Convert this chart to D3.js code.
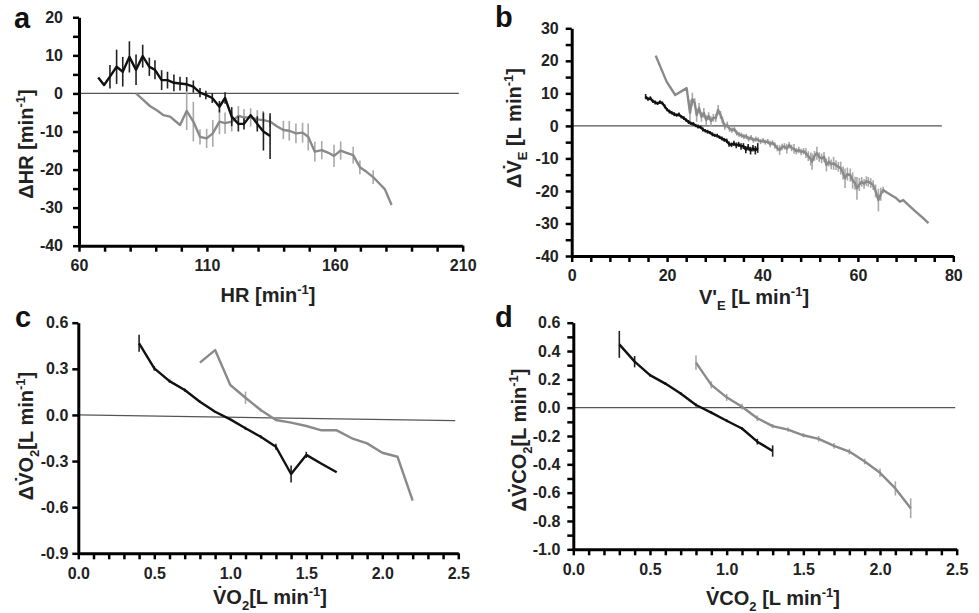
<!DOCTYPE html>
<html>
<head>
<meta charset="utf-8">
<script src="https://cdn.jsdelivr.net/npm/d3@7"></script>
<style>
body { margin: 0; background: #fff; }
text { font-family: "Liberation Sans", Arial, sans-serif; font-weight: bold; }
</style>
</head>
<body>
<div id="chart"></div>
<script>
// ---- panel a : HR ----
var aBlackX = [67.5, 69.8, 72.1, 74.7, 77.1, 79.7, 82.3, 84.9, 87.5, 89.7, 92.3, 94.6, 97.1, 99.5, 102.1, 104.7, 107.3, 109.6, 112.1, 114.9, 117.1, 119.7, 122.3, 124.5, 127.1, 129.7, 132.1, 134.7];
var aBlackY = [4.2, 2.2, 4.4, 7.0, 5.7, 9.6, 6.2, 9.8, 7.0, 6.2, 3.5, 3.5, 2.8, 2.6, 2.4, 1.8, 0.2, -0.4, -1.2, -3.5, -1.2, -6.1, -8.0, -8.0, -5.7, -8.0, -10.0, -11.2];
var aBlackErr = [0, 0, 3.1, 4.5, 3.9, 4.1, 4.0, 3.0, 2.4, 2.5, 2.6, 2.2, 2.2, 1.8, 1.9, 1.6, 1.2, 1.1, 1.3, 1.5, 1.5, 2.5, 2.0, 1.5, 0, 2.0, 5.0, 6.0];
var aGrayX = [82.3, 85.1, 87.7, 90.4, 93.0, 95.6, 99.5, 102.1, 104.7, 107.3, 109.9, 112.3, 114.9, 117.1, 119.7, 122.3, 124.5, 127.1, 129.7, 132.0, 134.7, 137.3, 139.9, 142.2, 144.8, 147.4, 149.6, 152.2, 154.9, 157.5, 159.7, 162.3, 164.6, 167.2, 169.8, 172.4, 175.0, 177.6, 179.6, 182.2];
var aGrayY = [0.0, -1.7, -3.3, -4.4, -5.7, -6.1, -8.3, -4.6, -7.4, -11.4, -11.8, -10.5, -7.4, -7.8, -7.4, -5.9, -6.3, -6.3, -6.8, -7.0, -7.4, -8.6, -9.6, -9.8, -10.5, -10.3, -11.4, -15.3, -14.9, -15.6, -16.4, -15.0, -15.6, -16.2, -19.4, -20.6, -22.0, -23.8, -25.2, -29.3];
var aGrayErr = [0, 0, 0, 0, 0, 0, 0, 5.0, 5.2, 2.0, 2.5, 3.5, 3.3, 2.8, 2.6, 2.6, 2.2, 2.4, 2.4, 2.4, 1.5, 0, 2.4, 2.6, 2.6, 2.6, 3.5, 2.6, 2.4, 0, 2.9, 2.4, 0, 2.2, 1.8, 0, 1.8, 0, 0, 0];
var aZero = [[60, 0], [208.5, 0]];
var aXLabels = [60, 110, 160, 210];
var aYLabels = [-40, -30, -20, -10, 0, 10, 20];

// ---- panel b : VE ----
var bBlackX = [15.5, 16.0, 16.5, 17.0, 17.5, 18.0, 18.5, 19.0, 19.5, 20.0, 20.5, 21.0, 21.5, 22.0, 22.5, 23.0, 23.5, 24.0, 24.5, 25.0, 25.5, 26.0, 26.5, 27.0, 27.5, 28.0, 28.5, 29.0, 29.5, 30.0, 30.5, 31.0, 31.5, 32.0, 32.5, 33.0, 33.5, 34.0, 34.5, 35.0, 35.5, 36.0, 36.5, 37.0, 37.5, 38.0, 38.5, 39.0];
var bBlackY = [9.0, 8.2, 8.5, 7.6, 7.2, 6.9, 7.3, 7.0, 6.0, 5.0, 4.4, 4.0, 3.6, 3.3, 3.5, 2.8, 2.4, 1.8, 1.2, 0.8, 0.6, 0.1, -0.2, -0.4, -1.1, -1.5, -1.8, -2.1, -2.6, -2.9, -3.0, -3.5, -3.9, -4.3, -4.6, -5.6, -5.8, -5.4, -6.0, -5.7, -6.3, -6.2, -7.3, -6.6, -7.6, -6.9, -7.5, -6.8];
var bBlackErr = [0.8, 0.5, 0.6, 0.5, 0.6, 0.5, 0.6, 0.5, 0.6, 0.5, 0.6, 0.5, 0.6, 0.5, 0.6, 0.5, 0.6, 0.5, 0.6, 0.5, 0.6, 0.5, 0.6, 0.5, 0.6, 0.5, 0.6, 0.5, 0.6, 0.5, 0.6, 0.5, 0.6, 0.6, 0.7, 0.8, 0.7, 0.8, 0.9, 0.8, 1.0, 0.9, 1.1, 1.0, 1.2, 1.0, 1.3, 1.5];
var bGrayX = [17.6, 19.9, 21.7, 24.1, 24.8, 25.3, 25.8, 26.2, 26.7, 27.2,
  27.7, 28.2, 28.7, 29.2, 29.7, 30.2, 30.7, 31.2, 31.6, 32.1,
  32.6, 33.1, 33.6, 34.1, 34.6, 35.1, 35.6, 36.1, 36.6, 37.1,
  37.6, 38.1, 38.6, 39.1, 39.6, 40.1, 40.6, 41.1, 41.6, 42.1,
  42.6, 43.1, 43.6, 44.1, 44.6, 45.1, 45.6, 46.1, 46.6, 47.1,
  47.6, 48.1, 48.6, 49.1, 49.6, 50.1, 50.4, 50.9, 51.4, 51.9,
  52.4, 52.9, 53.4, 53.9, 54.4, 54.9, 55.4, 55.9, 56.4, 56.9,
  57.3, 57.8, 58.4, 58.9, 59.4, 59.8, 60.3, 60.8, 61.3, 61.8,
  62.2, 62.7, 63.2, 63.7, 64.3, 64.8, 65.3, 66.0, 67.0, 68.0,
  68.8, 69.5, 70.5, 72.0, 73.5, 74.8];
var bGrayY = [21.6, 13.6, 9.5, 11.6, 4.0, 8.2, 7.0, 3.3, 5.5, 2.8,
  4.0, 1.8, 3.0, 1.5, 2.5, 2.4, 4.9, 3.4, 1.8, -0.2,
  0.3, -0.9, -1.3, -1.0, -2.2, -2.6, -2.9, -3.3, -3.2, -4.0,
  -3.6, -4.4, -4.1, -4.3, -4.8, -4.5, -5.0, -4.8, -5.6, -5.2,
  -6.0, -6.8, -7.4, -6.5, -6.3, -7.0, -5.9, -6.8, -7.1, -7.8,
  -7.4, -8.0, -7.8, -8.4, -9.3, -10.2, -11.0, -9.2, -8.4, -9.6,
  -10.0, -9.5, -12.0, -11.0, -11.8, -11.5, -12.1, -12.6, -13.0, -14.5,
  -16.1, -14.8, -15.1, -16.8, -17.6, -19.2, -18.0, -17.2, -17.8, -17.0,
  -17.2, -17.6, -18.2, -20.0, -22.8, -21.0, -19.7, -20.4, -21.3, -22.2,
  -23.3, -22.8, -24.2, -26.2, -28.1, -29.9];
var bGrayErr = [0, 0, 0, 0, 4.0, 2.0, 1.5, 2.0, 1.5, 1.5,
  1.5, 1.5, 1.2, 1.5, 1.2, 1.2, 1.5, 1.2, 1.0, 1.0,
  1.0, 1.0, 0.8, 0.8, 0.8, 0.8, 0.8, 0.8, 0.8, 0.8,
  0.8, 0.8, 0.8, 0.8, 0.8, 0.8, 0.8, 0.8, 1.0, 0.8,
  1.0, 1.0, 1.5, 1.0, 1.0, 1.5, 1.0, 1.0, 1.5, 1.0,
  1.0, 1.0, 1.0, 1.5, 1.5, 2.0, 2.5, 1.5, 2.0, 1.5,
  1.5, 1.5, 2.0, 1.5, 1.5, 2.0, 1.5, 1.5, 2.0, 2.0,
  3.0, 2.0, 2.0, 2.5, 2.0, 3.5, 2.0, 1.5, 1.5, 1.5,
  1.5, 1.5, 1.5, 2.0, 3.5, 2.0, 1.0, 0, 0, 0,
  0, 0, 0, 0, 0, 0];
var bZero = [[0, 0], [77.6, 0]];
var bXLabels = [0, 20, 40, 60, 80];
var bYLabels = [-40, -30, -20, -10, 0, 10, 20, 30];

// ---- panel c : VO2 ----
var cBlackX = [0.4, 0.5, 0.6, 0.7, 0.8, 0.9, 1.0, 1.1, 1.2, 1.3, 1.4, 1.5, 1.6, 1.7];
var cBlackY = [0.466, 0.303, 0.22, 0.162, 0.086, 0.021, -0.029, -0.087, -0.142, -0.207, -0.384, -0.26, -0.317, -0.373];
var cBlackErr = [0.055, 0.015, 0.01, 0.01, 0.008, 0.005, 0.005, 0.01, 0.01, 0.02, 0.055, 0.02, 0, 0];
var cGrayX = [0.8, 0.9, 1.0, 1.1, 1.2, 1.3, 1.4, 1.5, 1.6, 1.7, 1.8, 1.9, 2.0, 2.1, 2.2];
var cGrayY = [0.34, 0.422, 0.195, 0.112, 0.032, -0.033, -0.05, -0.072, -0.1, -0.1, -0.152, -0.185, -0.246, -0.272, -0.558];
var cGrayErr = [0, 0, 0, 0.04, 0.01, 0, 0, 0, 0, 0, 0, 0, 0, 0, 0];
var cZero = [[0, 0], [2.48, -0.037]];
var cXLabels = [0, 0.5, 1.0, 1.5, 2.0, 2.5];
var cYLabels = [-0.9, -0.6, -0.3, 0, 0.3, 0.6];

// ---- panel d : VCO2 ----
var dBlackX = [0.3, 0.4, 0.5, 0.6, 0.7, 0.8, 0.9, 1.0, 1.1, 1.2, 1.3];
var dBlackY = [0.447, 0.325, 0.23, 0.17, 0.1, 0.019, -0.035, -0.092, -0.147, -0.24, -0.306];
var dBlackErr = [0.095, 0.04, 0.01, 0.01, 0.01, 0.01, 0.01, 0.01, 0.01, 0.02, 0.04];
var dGrayX = [0.8, 0.9, 1.0, 1.1, 1.2, 1.3, 1.4, 1.5, 1.6, 1.7, 1.8, 1.9, 2.0, 2.1, 2.2];
var dGrayY = [0.318, 0.161, 0.073, 0.007, -0.075, -0.13, -0.155, -0.195, -0.22, -0.27, -0.31, -0.38, -0.46, -0.57, -0.71];
var dGrayErr = [0.05, 0.025, 0.025, 0.02, 0.02, 0.015, 0.015, 0.015, 0.02, 0.02, 0.02, 0.02, 0.03, 0.05, 0.07];
var dZero = [[0, 0], [2.49, 0]];
var dXLabels = [0, 0.5, 1.0, 1.5, 2.0, 2.5];
var dYLabels = [-1.0, -0.8, -0.6, -0.4, -0.2, 0, 0.2, 0.4, 0.6];

var svg = d3.select("#chart")
  .append("svg")
    .attr("width", 979)
    .attr("height", 613);

var intFmt = function(d) { return String(Math.round(d)); };
var decFmt = function(d) { return (Math.abs(d) < 1e-9 ? 0 : d).toFixed(1); };

// write text with sub/superscript parts
function richText(t, parts) {
  var shift = 0;
  parts.forEach(function(p) {
    var target = p[1] == "sup" ? -8 : (p[1] == "sub" ? 6 : 0);
    var s = t.append("tspan").text(p[0]).attr("dy", target - shift);
    if (p[1]) s.style("font-size", "13px");
    shift = target;
  });
}

function drawPanel(p) {
  var x = d3.scaleLinear().domain(p.xDom).range([p.left, p.right]);
  var y = d3.scaleLinear().domain(p.yDom).range([p.bottom, p.top]);
  var g = svg.append("g");

  var line = d3.line().x(function(d) { return x(d[0]); }).y(function(d) { return y(d[1]); });

  g.append("path")
    .attr("d", line(p.zero))
    .attr("fill", "none")
    .attr("stroke", "#555")
    .attr("stroke-width", 1.3);

  p.series.forEach(function(s) {
    var pts = s.x.map(function(v, i) { return {x: v, y: s.y[i], e: s.e[i]}; });
    g.selectAll(null)
      .data(pts.filter(function(d) { return d.e > 0; }))
      .enter().append("line")
        .attr("x1", function(d) { return x(d.x); })
        .attr("x2", function(d) { return x(d.x); })
        .attr("y1", function(d) { return y(d.y - d.e); })
        .attr("y2", function(d) { return y(d.y + d.e); })
        .attr("stroke", s.bar)
        .attr("stroke-width", 1.6);
    g.append("path")
      .datum(pts)
      .attr("fill", "none")
      .attr("stroke", s.color)
      .attr("stroke-width", 2.4)
      .attr("stroke-linejoin", "round")
      .attr("d", d3.line()
        .x(function(d) { return x(d.x); })
        .y(function(d) { return y(d.y); }));
  });

  function labelOf(list, fmt) {
    return function(d) {
      return list.some(function(v) { return Math.abs(v - d) < 1e-6; }) ? fmt(d) : "";
    };
  }

  var xAxis = g.append("g")
    .attr("transform", "translate(0," + p.bottom + ")")
    .call(d3.axisBottom(x).tickValues(p.xMinor).tickSize(6).tickSizeOuter(0)
      .tickPadding(8).tickFormat(labelOf(p.xLabels, p.fmt)));
  var yAxis = g.append("g")
    .attr("transform", "translate(" + p.left + ",0)")
    .call(d3.axisLeft(y).tickValues(p.yMinor).tickSize(6).tickSizeOuter(0)
      .tickPadding(p.yPad).tickFormat(labelOf(p.yLabels, p.yFmt)));

  [xAxis, yAxis].forEach(function(a) {
    a.select(".domain").attr("stroke", "#000").attr("stroke-width", 3);
    a.selectAll(".tick line").attr("stroke", "#000").attr("stroke-width", 2.5);
    a.selectAll(".tick text")
      .attr("fill", "#222")
      .style("font-size", "16px")
      .style("font-family", "'Liberation Sans', Arial, sans-serif")
      .style("font-weight", "bold");
  });

  g.append("text")
    .attr("x", p.letter[1])
    .attr("y", p.letter[2])
    .style("font-size", "29px")
    .attr("fill", "#111")
    .text(p.letter[0]);

  var xt = g.append("text")
    .attr("text-anchor", "middle")
    .attr("x", p.xTitlePos[0])
    .attr("y", p.xTitlePos[1])
    .style("font-size", "20px")
    .attr("fill", "#222");
  richText(xt, p.xTitle);

  var yt = g.append("text")
    .attr("text-anchor", "middle")
    .attr("transform", "translate(" + p.yTitlePos[0] + "," + p.yTitlePos[1] + ") rotate(-90)")
    .style("font-size", "20px")
    .attr("fill", "#222");
  richText(yt, p.yTitle);
}

var blackCol = "#111", grayCol = "#8a8a8a", grayBar = "#a9a9a9", blackBar = "#222";

drawPanel({
  left: 79, right: 462.7, top: 17.3, bottom: 245.7,
  xDom: [60, 210], yDom: [-40, 20],
  xMinor: d3.range(60, 211, 10), yMinor: d3.range(-40, 21, 5),
  xLabels: aXLabels, yLabels: aYLabels, fmt: intFmt, yFmt: intFmt, yPad: 10,
  zero: aZero,
  series: [
    {x: aGrayX, y: aGrayY, e: aGrayErr, color: grayCol, bar: grayBar},
    {x: aBlackX, y: aBlackY, e: aBlackErr, color: blackCol, bar: blackBar}
  ],
  letter: ["a", 14, 28],
  xTitlePos: [268, 302], xTitle: [["HR [min"], ["-1", "sup"], ["]"]],
  yTitlePos: [33, 144], yTitle: [["\u0394HR [min"], ["-1", "sup"], ["]"]]
});

drawPanel({
  left: 571.7, right: 953.3, top: 28.3, bottom: 256,
  xDom: [0, 80], yDom: [-40, 30],
  xMinor: d3.range(0, 81, 4), yMinor: d3.range(-40, 31, 5),
  xLabels: bXLabels, yLabels: bYLabels, fmt: intFmt, yFmt: intFmt, yPad: 7,
  zero: bZero,
  series: [
    {x: bGrayX, y: bGrayY, e: bGrayErr, color: grayCol, bar: grayBar},
    {x: bBlackX, y: bBlackY, e: bBlackErr, color: blackCol, bar: blackBar}
  ],
  letter: ["b", 495, 27],
  xTitlePos: [754, 304], xTitle: [["V'"], ["E", "sub"], [" [L min"], ["-1", "sup"], ["]"]],
  yTitlePos: [521, 128], yTitle: [["\u0394V\u0307"], ["E", "sub"], [" [L min"], ["-1", "sup"], ["]"]]
});

drawPanel({
  left: 78.3, right: 458.3, top: 322.7, bottom: 553.3,
  xDom: [0, 2.5], yDom: [-0.9, 0.6],
  xMinor: d3.range(0, 26).map(function(i) { return i / 10; }), yMinor: cYLabels,
  xLabels: cXLabels, yLabels: cYLabels, fmt: decFmt, yFmt: decFmt, yPad: 4,
  zero: cZero,
  series: [
    {x: cGrayX, y: cGrayY, e: cGrayErr, color: grayCol, bar: grayBar},
    {x: cBlackX, y: cBlackY, e: cBlackErr, color: blackCol, bar: blackBar}
  ],
  letter: ["c", 15, 327],
  xTitlePos: [270, 604], xTitle: [["V\u0307O"], ["2", "sub"], ["[L min"], ["-1", "sup"], ["]"]],
  yTitlePos: [33, 436], yTitle: [["\u0394V\u0307O"], ["2", "sub"], ["[L min"], ["-1", "sup"], ["]"]]
});

drawPanel({
  left: 573.3, right: 956.7, top: 322.7, bottom: 549.3,
  xDom: [0, 2.5], yDom: [-1.0, 0.6],
  xMinor: d3.range(0, 26).map(function(i) { return i / 10; }),
  yMinor: d3.range(-10, 7).map(function(i) { return i / 10; }),
  xLabels: dXLabels, yLabels: dYLabels, fmt: decFmt, yFmt: decFmt, yPad: 7,
  zero: dZero,
  series: [
    {x: dGrayX, y: dGrayY, e: dGrayErr, color: grayCol, bar: grayBar},
    {x: dBlackX, y: dBlackY, e: dBlackErr, color: blackCol, bar: blackBar}
  ],
  letter: ["d", 495, 327],
  xTitlePos: [773, 605], xTitle: [["V\u0307CO"], ["2", "sub"], [" [L min"], ["-1", "sup"], ["]"]],
  yTitlePos: [526, 440], yTitle: [["\u0394V\u0307CO"], ["2", "sub"], ["[L min"], ["-1", "sup"], ["]"]]
});
</script>
</body>
</html>
